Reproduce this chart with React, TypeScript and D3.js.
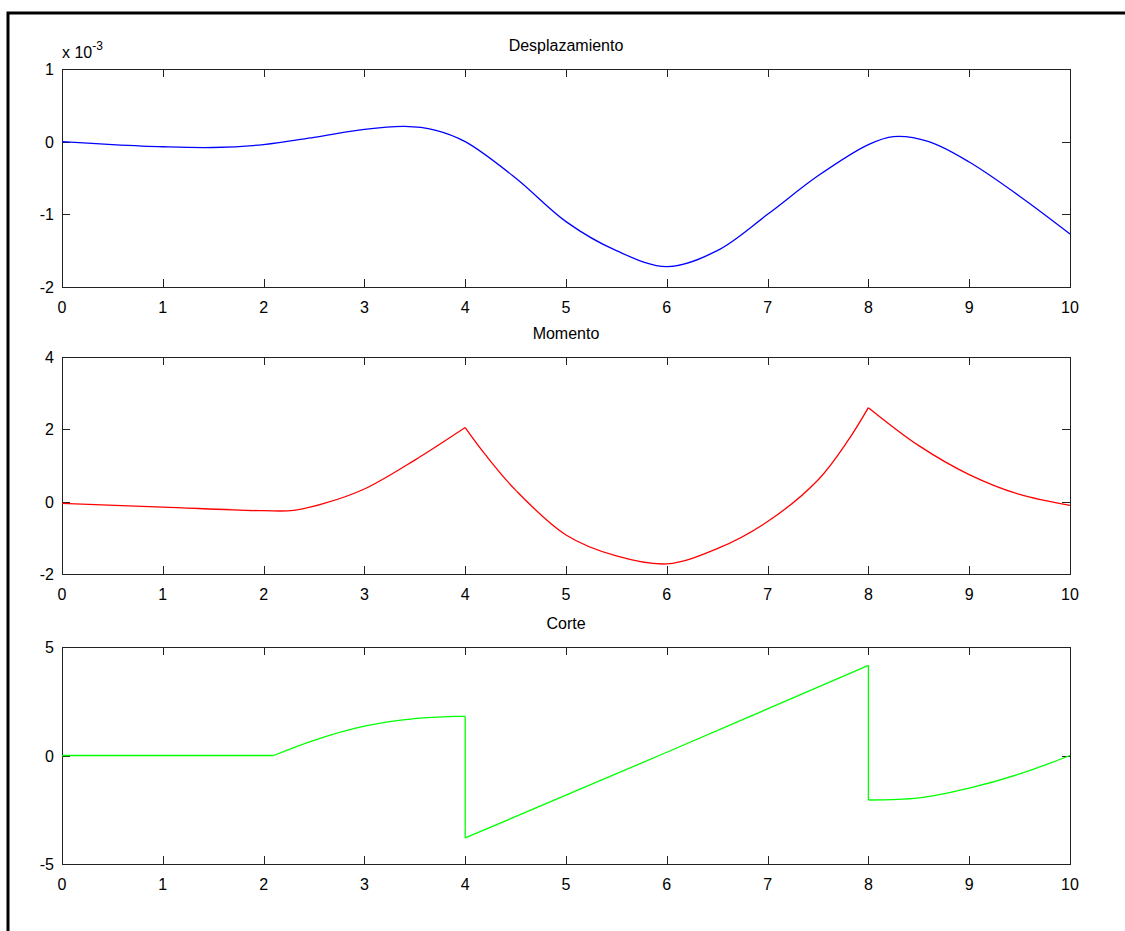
import { useEffect, useRef } from 'react';
import * as d3 from 'd3';

// Desplazamiento (x 10^-3)
const despX = [0, 0.5, 1, 1.5, 2, 2.5, 3, 3.4, 3.7, 4, 4.5, 5, 5.5, 6, 6.5, 7, 7.5, 8, 8.25, 8.6, 9, 9.5, 10];
const despY = [0, -0.04, -0.07, -0.08, -0.04, 0.06, 0.17, 0.21, 0.16, 0.0, -0.5, -1.1, -1.5, -1.72, -1.5, -1.0, -0.47, -0.04, 0.07, 0.0, -0.28, -0.75, -1.27];

// Momento
const momX = [0, 1, 2, 2.3, 2.6, 3, 3.5, 4, 4.2, 4.5, 5, 5.5, 6, 6.5, 7, 7.5, 7.8, 8, 8.5, 9, 9.5, 10];
const momY = [-0.05, -0.15, -0.25, -0.24, -0.05, 0.35, 1.15, 2.05, 1.3, 0.32, -0.92, -1.5, -1.72, -1.3, -0.55, 0.6, 1.7, 2.6, 1.55, 0.75, 0.2, -0.1];
const momBreaks = [4, 8];

// Corte
const corX = [0, 1, 2.1, 2.5, 3, 3.5, 3.9, 4, 4, 6, 8, 8, 8.5, 9, 9.5, 10];
const corY = [0, 0, 0, 0.7, 1.35, 1.7, 1.8, 1.8, -3.8, 0.15, 4.15, -2.05, -1.95, -1.5, -0.85, 0];
const corBreaks = [2.1];

const xTicks = [0, 1, 2, 3, 4, 5, 6, 7, 8, 9, 10];

const panels = [
  { title: 'Desplazamiento', xs: despX, ys: despY, breaks: [] as number[], domain: [-2, 1], yTicks: [-2, -1, 0, 1], color: '#0000ff', top: 69, bottom: 287, exp: true },
  { title: 'Momento', xs: momX, ys: momY, breaks: momBreaks, domain: [-2, 4], yTicks: [-2, 0, 2, 4], color: '#ff0000', top: 357, bottom: 574, exp: false },
  { title: 'Corte', xs: corX, ys: corY, breaks: corBreaks, domain: [-5, 5], yTicks: [-5, 0, 5], color: '#00ff00', top: 647, bottom: 864, exp: false },
];

export default function App() {
  const svgRef = useRef<SVGSVGElement>(null);

  useEffect(() => {
    if (!svgRef.current) return;
    const svg = d3.select(svgRef.current);
    svg.selectAll('*').remove();

    const left = 62, right = 1070;
    const font = 'Liberation Sans, Arial, sans-serif';

    // outer frame
    svg.append('rect')
      .attr('x', 8).attr('y', 13).attr('width', 1300).attr('height', 1000)
      .attr('fill', 'none').attr('stroke', '#000').attr('stroke-width', 3);

    const x = d3.scaleLinear().domain([0, 10]).range([left, right]);

    panels.forEach(p => {
      const y = d3.scaleLinear().domain(p.domain).range([p.bottom, p.top]);
      const g = svg.append('g');

      g.append('rect')
        .attr('x', left + 0.5).attr('y', p.top + 0.5)
        .attr('width', right - left).attr('height', p.bottom - p.top)
        .attr('fill', '#fff').attr('stroke', '#222').attr('stroke-width', 1);

      // ticks (inside, on all four sides)
      xTicks.forEach(t => {
        const px = Math.round(x(t)) + 0.5;
        g.append('line').attr('x1', px).attr('x2', px).attr('y1', p.bottom).attr('y2', p.bottom - 8).attr('stroke', '#222');
        g.append('line').attr('x1', px).attr('x2', px).attr('y1', p.top).attr('y2', p.top + 8).attr('stroke', '#222');
        g.append('text').attr('x', x(t)).attr('y', p.bottom + 26)
          .attr('text-anchor', 'middle').attr('font-family', font).attr('font-size', 16)
          .attr('fill', '#000').text(String(t));
      });
      p.yTicks.forEach(t => {
        const py = Math.round(y(t)) + 0.5;
        g.append('line').attr('x1', left).attr('x2', left + 8).attr('y1', py).attr('y2', py).attr('stroke', '#222');
        g.append('line').attr('x1', right).attr('x2', right - 8).attr('y1', py).attr('y2', py).attr('stroke', '#222');
        g.append('text').attr('x', left - 8).attr('y', y(t) + 6)
          .attr('text-anchor', 'end').attr('font-family', font).attr('font-size', 16)
          .attr('fill', '#000').text(String(t));
      });

      // split into smooth segments at jumps (repeated x) and at cusps (breaks)
      const segs: number[][] = [];
      let cur: number[] = [];
      p.xs.forEach((xv, i) => {
        if (i > 0 && xv === p.xs[i - 1]) {
          segs.push(cur);
          g.append('line').attr('x1', x(xv)).attr('x2', x(xv))
            .attr('y1', y(p.ys[i - 1])).attr('y2', y(p.ys[i]))
            .attr('stroke', p.color).attr('stroke-width', 1.3);
          cur = [];
        }
        cur.push(i);
        if (p.breaks.includes(xv) && !(i + 1 < p.xs.length && p.xs[i + 1] === xv)) {
          segs.push(cur);
          cur = [i];
        }
      });
      segs.push(cur);
      segs.filter(s => s.length > 1).forEach(idx => {
        g.append('path')
          .attr('d', d3.line<number>()
            .x(i => x(p.xs[i]))
            .y(i => y(p.ys[i]))
            .curve(d3.curveCatmullRom.alpha(0.5))(idx) || '')
          .attr('fill', 'none').attr('stroke', p.color).attr('stroke-width', 1.3)
          .attr('stroke-linejoin', 'miter');
      });

      g.append('text').attr('x', (left + right) / 2).attr('y', p.top - 18)
        .attr('text-anchor', 'middle').attr('font-family', font).attr('font-size', 16)
        .attr('fill', '#000').text(p.title);

      if (p.exp) {
        const t = g.append('text').attr('x', left).attr('y', p.top - 11)
          .attr('font-family', font).attr('font-size', 16).attr('fill', '#000');
        t.append('tspan').text('x 10');
        t.append('tspan').attr('dy', -8).attr('font-size', 12).text('-3');
      }
    });
  }, []);

  return (
    <svg ref={svgRef} width={1125} height={931}
      style={{ position: 'absolute', left: 0, top: 0, background: '#fff' }} />
  );
}
